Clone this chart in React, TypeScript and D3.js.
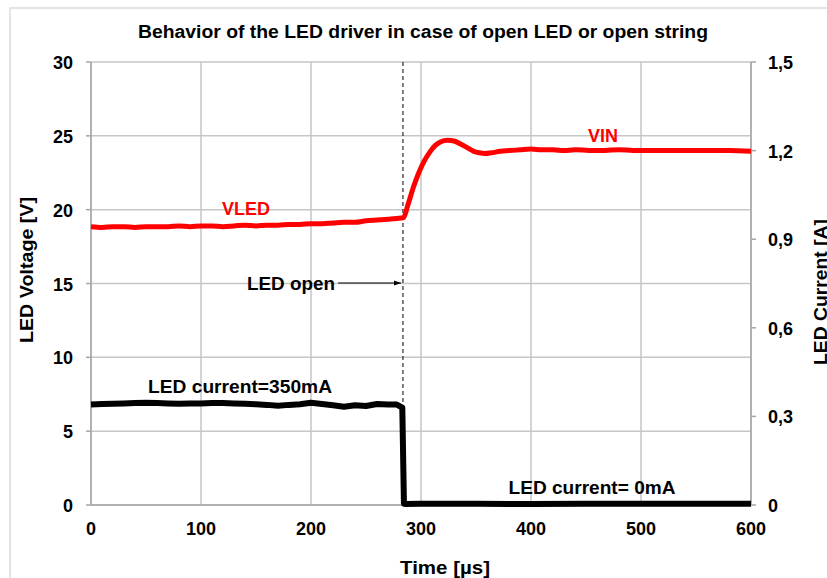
import React from "react";
import * as d3 from "d3";

const title = "Behavior  of the LED driver in case of open LED or open string";
const xTicks = [0, 100, 200, 300, 400, 500, 600];
const yLeftTicks = [0, 5, 10, 15, 20, 25, 30];
const yRightTicks = [0, 0.3, 0.6, 0.9, 1.2, 1.5];
const yRightLabels = ["0", "0,3", "0,6", "0,9", "1,2", "1,5"];

// LED voltage / VIN (V)
const vTime = [0, 10, 20, 30, 40, 50, 60, 70, 80, 90, 100, 110, 120, 130, 140, 150, 160, 170, 180, 190, 200, 210, 220, 230, 240, 250, 260, 270, 278, 284, 288, 293, 298, 303, 308, 313, 318, 324, 330, 336, 342, 348, 353, 358, 364, 372, 380, 390, 400, 410, 420, 430, 440, 460, 480, 500, 520, 540, 560, 580, 600];
const vValue = [18.85, 18.8, 18.85, 18.85, 18.8, 18.85, 18.85, 18.85, 18.9, 18.85, 18.9, 18.9, 18.85, 18.9, 18.95, 18.9, 18.95, 18.95, 19.0, 19.0, 19.05, 19.05, 19.1, 19.15, 19.15, 19.25, 19.3, 19.35, 19.4, 19.45, 20.3, 21.5, 22.5, 23.3, 23.9, 24.35, 24.6, 24.7, 24.65, 24.45, 24.2, 23.95, 23.85, 23.8, 23.85, 23.95, 24.0, 24.05, 24.1, 24.05, 24.05, 24.0, 24.05, 24.0, 24.05, 24.0, 24.0, 24.0, 24.0, 24.0, 23.95];

// LED current (A)
const iTime = [0, 10, 20, 30, 40, 50, 60, 70, 80, 90, 100, 110, 120, 130, 140, 150, 160, 170, 180, 190, 200, 210, 220, 230, 240, 250, 260, 270, 278, 283, 284.5, 286, 300, 350, 400, 450, 500, 550, 600];
const iValue = [0.340, 0.342, 0.343, 0.344, 0.345, 0.346, 0.345, 0.344, 0.343, 0.344, 0.344, 0.345, 0.345, 0.344, 0.343, 0.341, 0.339, 0.336, 0.339, 0.341, 0.346, 0.342, 0.338, 0.333, 0.338, 0.335, 0.342, 0.340, 0.340, 0.330, 0.004, 0.003, 0.004, 0.004, 0.003, 0.004, 0.004, 0.004, 0.004];

const openTime = 283.6;

const W = 827;
const H = 578;
const left = 91;
const right = 751;
const top = 62;
const bottom = 505;
const FONT = "'Liberation Sans', Arial, sans-serif";

export default function App() {
  const x = d3.scaleLinear().domain([0, 600]).range([left, right]);
  const yL = d3.scaleLinear().domain([0, 30]).range([bottom, top]);
  const yR = d3.scaleLinear().domain([0, 1.5]).range([bottom, top]);

  const vLine = d3
    .line<number>()
    .x((_, i) => x(vTime[i]))
    .y((d) => yL(d))
    .curve(d3.curveMonotoneX);
  const iLine = d3
    .line<number>()
    .x((_, i) => x(iTime[i]))
    .y((d) => yR(d));

  const grid = "#c6c6c6";
  const xo = x(openTime);
  const arrowY = 283;

  return (
    <svg
      width={W}
      height={H}
      style={{ position: "absolute", left: 0, top: 0, display: "block", background: "#fff" }}
      fontFamily={FONT}
      fontWeight="bold"
    >
      <defs>
        <marker id="ah" viewBox="0 0 10 10" refX="10" refY="5" markerWidth="7" markerHeight="7" orient="auto">
          <path d="M0,1.5 L10,5 L0,8.5 z" fill="#000" />
        </marker>
      </defs>
      <rect x={10} y={8} width={900} height={700} fill="#fff" stroke="#dcdcdc" strokeWidth={1.5} />

      {/* gridlines */}
      {yLeftTicks.map((t) => (
        <line key={"gy" + t} x1={left} x2={right} y1={yL(t)} y2={yL(t)} stroke={grid} strokeWidth={1.5} />
      ))}
      {xTicks.map((t) => (
        <line key={"gx" + t} x1={x(t)} x2={x(t)} y1={top} y2={bottom} stroke={grid} strokeWidth={1.5} />
      ))}
      {/* axis lines and ticks */}
      <line x1={left} x2={left} y1={top} y2={bottom} stroke="#a6a6a6" strokeWidth={1.5} />
      <line x1={left} x2={right} y1={bottom} y2={bottom} stroke="#a6a6a6" strokeWidth={1.5} />
      <line x1={right} x2={right} y1={top} y2={bottom} stroke="#a6a6a6" strokeWidth={1.5} />
      {yLeftTicks.map((t) => (
        <line key={"lt" + t} x1={left - 5} x2={left} y1={yL(t)} y2={yL(t)} stroke="#a6a6a6" strokeWidth={1.5} />
      ))}
      {yRightTicks.map((t) => (
        <line key={"rt" + t} x1={right} x2={right + 5} y1={yR(t)} y2={yR(t)} stroke="#a6a6a6" strokeWidth={1.5} />
      ))}

      {/* tick labels */}
      {yLeftTicks.map((t) => (
        <text key={"ll" + t} x={73} y={yL(t) + 7} textAnchor="end" fontSize={18}>
          {t}
        </text>
      ))}
      {yRightTicks.map((t, i) => (
        <text key={"rl" + t} x={768} y={yR(t) + 7} textAnchor="start" fontSize={18}>
          {yRightLabels[i]}
        </text>
      ))}
      {xTicks.map((t) => (
        <text key={"xl" + t} x={x(t)} y={535} textAnchor="middle" fontSize={18}>
          {t}
        </text>
      ))}

      {/* titles */}
      <text x={423} y={38} textAnchor="middle" fontSize={18} textLength={570} lengthAdjust="spacingAndGlyphs">
        {title}
      </text>
      <text x={445} y={574} textAnchor="middle" fontSize={18} textLength={90} lengthAdjust="spacingAndGlyphs">
        Time  [µs]
      </text>
      <text
        transform={`translate(33,${270}) rotate(-90)`}
        textAnchor="middle"
        fontSize={18}
        textLength={146}
        lengthAdjust="spacingAndGlyphs"
      >
        LED Voltage  [V]
      </text>
      <text
        transform={`translate(827,${292}) rotate(-90)`}
        textAnchor="middle"
        fontSize={18}
        textLength={146}
        lengthAdjust="spacingAndGlyphs"
      >
        LED Current  [A]
      </text>

      {/* dashed open marker */}
      <line x1={xo} x2={xo} y1={top} y2={bottom} stroke="#000" strokeWidth={1} strokeDasharray="4,3" />

      {/* series */}
      <path d={vLine(vValue) || ""} fill="none" stroke="#ff0000" strokeWidth={5} strokeLinejoin="round" />
      <path d={iLine(iValue) || ""} fill="none" stroke="#000" strokeWidth={6} strokeLinejoin="round" />

      {/* annotations */}
      <text x={246} y={215} textAnchor="middle" fontSize={18} fill="#ff0000">
        VLED
      </text>
      <text x={603} y={142} textAnchor="middle" fontSize={18} fill="#ff0000">
        VIN
      </text>
      <text x={291} y={290} textAnchor="middle" fontSize={18} textLength={88} lengthAdjust="spacingAndGlyphs">
        LED open
      </text>
      <line x1={338} x2={xo - 2} y1={arrowY} y2={arrowY} stroke="#000" strokeWidth={1} markerEnd="url(#ah)" />
      <text x={240} y={393} textAnchor="middle" fontSize={18} textLength={184} lengthAdjust="spacingAndGlyphs">
        LED current=350mA
      </text>
      <text x={592} y={494} textAnchor="middle" fontSize={18} textLength={167} lengthAdjust="spacingAndGlyphs">
        LED current= 0mA
      </text>
    </svg>
  );
}
